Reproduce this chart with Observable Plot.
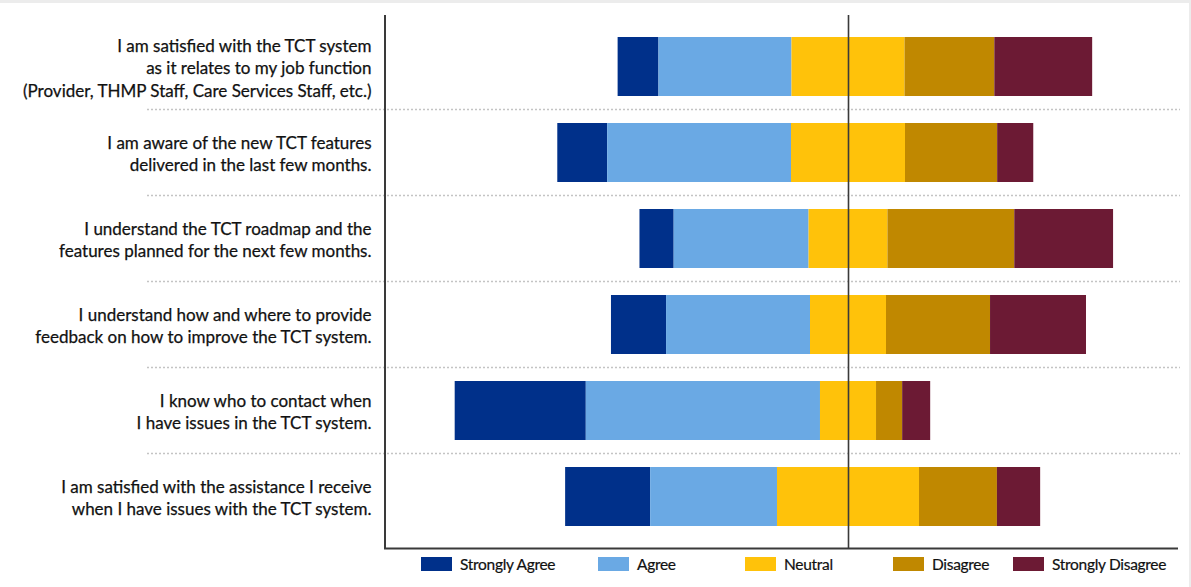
<!DOCTYPE html>
<html>
<head>
<meta charset="utf-8">
<script src="https://cdn.jsdelivr.net/npm/d3@7"></script>
<script src="https://cdn.jsdelivr.net/npm/@observablehq/plot@0.6"></script>
<style>
  html, body { margin: 0; padding: 0; background: #fff; }
  #wrap {
    width: 1191px; height: 587px; box-sizing: border-box;
    border-top: 3px solid #ececec; border-right: 2px solid #ececec;
    position: relative; overflow: hidden;
    font-family: Lato, "Open Sans", sans-serif;
  }
  #chart svg { display: block; }
  #legend { position: relative; height: 32px; }
  .item {
    position: absolute; top: 2px; height: 14px;
    display: flex; align-items: center;
    font-size: 15.5px; color: #111; letter-spacing: -0.3px; white-space: nowrap;
    -webkit-text-stroke: 0.2px #111;
  }
  .sw { width: 31px; height: 14px; margin-right: 8px; flex: none; }
</style>
</head>
<body>
<div id="wrap">
  <div id="chart"></div>
  <div id="legend"></div>
</div>
<script>
// Survey statements (top to bottom)
const questions = [
  "I am satisfied with the TCT system\nas it relates to my job function\n(Provider, THMP Staff, Care Services Staff, etc.)",
  "I am aware of the new TCT features\ndelivered in the last few months.",
  "I understand the TCT roadmap and the\nfeatures planned for the next few months.",
  "I understand how and where to provide\nfeedback on how to improve the TCT system.",
  "I know who to contact when\nI have issues in the TCT system.",
  "I am satisfied with the assistance I receive\nwhen I have issues with the TCT system."
];

// Response categories, in stacking order
const responses = ["Strongly Agree", "Agree", "Neutral", "Disagree", "Strongly Disagree"];

// Share of respondents (%) per statement
const stronglyAgree    = [8.6, 10.5, 7.2, 11.6, 27.6, 17.9];
const agree            = [28.0, 38.7, 28.4, 30.3, 49.3, 26.7];
const neutral          = [23.8, 24.0, 16.6, 16.0, 11.8, 29.9];
const disagree         = [18.9, 19.4, 26.7, 21.9, 5.5, 16.4];
const stronglyDisagree = [20.6, 7.6, 20.8, 20.2, 5.9, 9.1];

const responseColors = ["#00308a", "#6aa9e4", "#ffc20a", "#c08800", "#6c1a34"];

// Diverging layout: neutral straddles zero, agreement to the left
const series = [stronglyAgree, agree, neutral, disagree, stronglyDisagree];
const segments = [];
questions.forEach((q, i) => {
  let start = -(stronglyAgree[i] + agree[i] + neutral[i] / 2);
  responses.forEach((r, j) => {
    const v = series[j][i];
    segments.push({question: q, response: r, x1: start, x2: start + v});
    start += v;
  });
});

const xDomain = [-97.47, 69.47];
const separatorLeft = 147;

// dotted separators between statements, extending under the labels
const separators = (index, scales, values, dims) => {
  const y = scales.y;
  const gap = y.step() - y.bandwidth();
  const g = d3.create("svg:g")
    .attr("stroke", "#c4c4c4")
    .attr("stroke-width", 1.3)
    .attr("stroke-dasharray", "2,2");
  for (const q of questions.slice(1)) {
    const yy = y(q) - gap / 2;
    g.append("line")
      .attr("x1", separatorLeft).attr("x2", dims.width - dims.marginRight + 2)
      .attr("y1", yy).attr("y2", yy);
  }
  return g.node();
};

// left and bottom axis lines
const axes = (index, scales, values, dims) => {
  const g = d3.create("svg:g").attr("stroke", "#3a3a3a").attr("stroke-width", 2);
  const bottom = dims.height - dims.marginBottom;
  g.append("line")
    .attr("x1", dims.marginLeft).attr("x2", dims.marginLeft)
    .attr("y1", dims.marginTop).attr("y2", bottom);
  g.append("line")
    .attr("x1", dims.marginLeft - 1).attr("x2", dims.width - dims.marginRight)
    .attr("y1", bottom).attr("y2", bottom);
  return g.node();
};

const chart = Plot.plot({
  width: 1189,
  height: 552,
  marginLeft: 385,
  marginRight: 11,
  marginTop: 12,
  marginBottom: 6.5,
  x: {domain: xDomain, axis: null},
  y: {domain: questions, axis: null, paddingInner: 0.318, paddingOuter: 0.243},
  color: {domain: responses, range: responseColors},
  style: {fontFamily: "Lato, 'Open Sans', sans-serif", background: "transparent"},
  marks: [
    separators,
    Plot.barX(segments, {y: "question", x1: "x1", x2: "x2", fill: "response"}),
    Plot.ruleX([0], {stroke: "#3a3a3a", strokeWidth: 1.6}),
    axes,
    Plot.text(questions, {
      y: d => d,
      text: d => d,
      frameAnchor: "left",
      dx: -14,
      textAnchor: "end",
      lineHeight: 1.32,
      fontSize: 17,
      fill: "#111",
      stroke: "#111",
      strokeWidth: 0.25,
      style: "letter-spacing:-0.6px"
    })
  ]
});
document.getElementById("chart").append(chart);

// Legend below the chart
const legendLeft = [421, 598, 745, 893, 1013];
const legend = document.getElementById("legend");
responses.forEach((r, i) => {
  const item = document.createElement("div");
  item.className = "item";
  item.style.left = legendLeft[i] + "px";
  const sw = document.createElement("span");
  sw.className = "sw";
  sw.style.background = responseColors[i];
  const label = document.createElement("span");
  label.textContent = r;
  item.append(sw, label);
  legend.append(item);
});
</script>
</body>
</html>
